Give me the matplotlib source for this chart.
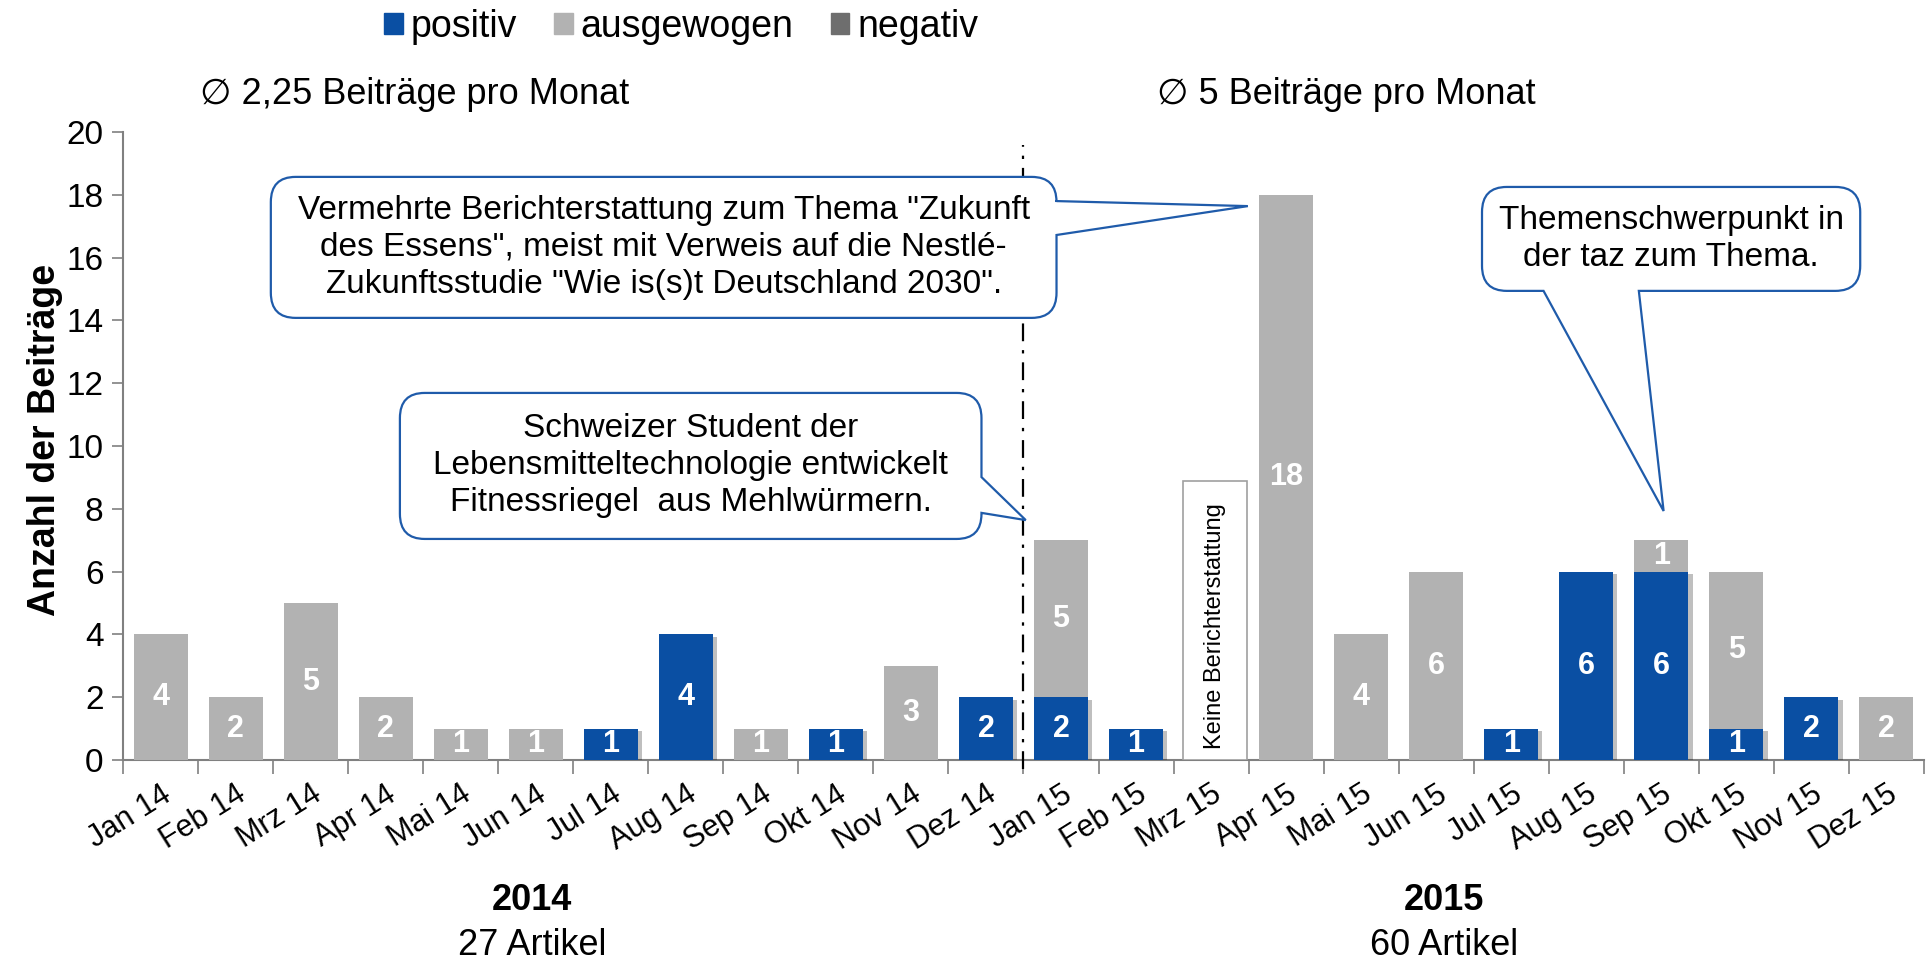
import numpy as np
import matplotlib
matplotlib.use("Agg")
import matplotlib.pyplot as plt
import matplotlib.patheffects as pe
from matplotlib.patches import Patch, PathPatch
from matplotlib.path import Path

plt.rcParams['font.family'] = ['Liberation Sans', 'DejaVu Sans']

# Daten
monate = ['Jan 14', 'Feb 14', 'Mrz 14', 'Apr 14', 'Mai 14', 'Jun 14', 'Jul 14', 'Aug 14',
          'Sep 14', 'Okt 14', 'Nov 14', 'Dez 14', 'Jan 15', 'Feb 15', 'Mrz 15', 'Apr 15',
          'Mai 15', 'Jun 15', 'Jul 15', 'Aug 15', 'Sep 15', 'Okt 15', 'Nov 15', 'Dez 15']
positiv = [0, 0, 0, 0, 0, 0, 1, 4, 0, 1, 0, 2, 2, 1, 0, 0, 0, 0, 1, 6, 6, 1, 2, 0]
ausgewogen = [4, 2, 5, 2, 1, 1, 0, 0, 1, 0, 3, 0, 5, 0, 0, 18, 4, 6, 0, 0, 1, 5, 0, 2]
negativ = [0] * 24
keine_idx = 14          # Mrz 15: keine Berichterstattung
keine_hoehe = 8.9

c_pos = '#0A4FA3'
c_aus = '#B2B2B2'
c_neg = '#6E6E6E'
c_call = '#1F5BAA'

fig = plt.figure(figsize=(19.31, 9.6), dpi=100)
ax = fig.add_axes([123 / 1931, 200 / 960, 1801 / 1931, 628 / 960])

x = np.arange(len(monate))
pos = np.array(positiv)
aus = np.array(ausgewogen)
neg = np.array(negativ)
w = 0.72

shadow = [pe.SimplePatchShadow(offset=(3, -2), shadow_rgbFace='k', alpha=0.25), pe.Normal()]
b1 = ax.bar(x, pos, w, color=c_pos, zorder=3)
for b in b1:
    b.set_path_effects(shadow)
b2 = ax.bar(x, aus, w, bottom=pos, color=c_aus, zorder=3)
b3 = ax.bar(x, neg, w, bottom=pos + aus, color=c_neg, zorder=3)

# Mrz 15 Kasten
ax.bar(keine_idx + 0.05, keine_hoehe, 0.86, color='white', edgecolor='#A0A0A0', lw=1.2, zorder=3)
ax.text(keine_idx + 0.05, 0.35, 'Keine Berichterstattung', rotation=90, ha='center', va='bottom',
        fontsize=17, zorder=4)

# Werte-Labels
for i in x:
    if pos[i] > 0:
        ax.text(i, pos[i] / 2, str(pos[i]), ha='center', va='center', color='white',
                fontsize=22, fontweight='bold', zorder=5)
    if aus[i] > 0:
        ax.text(i, pos[i] + aus[i] / 2, str(aus[i]), ha='center', va='center', color='white',
                fontsize=22, fontweight='bold', zorder=5)

# Achsen
ax.set_xlim(-0.5, 23.5)
ax.set_ylim(0, 20)
ax.set_yticks(np.arange(0, 21, 2))
ax.tick_params(axis='y', labelsize=24, length=8, color='#808080', width=1.2, pad=6)
ax.set_xticks(x)
ax.set_xticklabels(monate, rotation=32, ha='right', rotation_mode='anchor', fontsize=22)
ax.tick_params(axis='x', which='major', length=0, pad=14)
ax.set_xticks(np.arange(-0.5, 24, 1), minor=True)
ax.tick_params(axis='x', which='minor', length=10, color='#808080', width=1.2)
for s in ['top', 'right']:
    ax.spines[s].set_visible(False)
for s in ['left', 'bottom']:
    ax.spines[s].set_color('#808080')
    ax.spines[s].set_linewidth(1.5)
ax.set_ylabel('Anzahl der Beiträge', fontsize=27, fontweight='bold')
ax.yaxis.label.set_va('center')
ax.yaxis.set_label_coords(-0.0435, 0.51)

# Trennlinie
ax.plot([11.5, 11.5], [-0.3, 19.6], color='black', lw=1.6, ls=(0, (8, 4, 1.5, 4)),
        clip_on=False, zorder=6)

# Legende
handles = [Patch(color=c_pos), Patch(color=c_aus), Patch(color=c_neg)]
fig.legend(handles, ['positiv', 'ausgewogen', 'negativ'], loc='center',
           bbox_to_anchor=(681 / 1931, 1 - 27 / 960), ncol=3, frameon=False, fontsize=27,
           handlelength=0.5, handleheight=0.5, handletextpad=0.2, columnspacing=1.0,
           borderpad=0)

# Überschriften / Jahre
trans = ax.get_xaxis_transform()
ax.text(3.38, 1.059, '\u2205 2,25 Beiträge pro Monat', transform=trans, ha='center', va='center',
        fontsize=26)
ax.text(15.8, 1.059, '\u2205 5 Beiträge pro Monat', transform=trans, ha='center', va='center',
        fontsize=26)
ax.text(4.95, -0.2245, '2014', transform=trans, ha='center', va='center', fontsize=26,
        fontweight='bold')
ax.text(4.95, -0.296, '27 Artikel', transform=trans, ha='center', va='center', fontsize=26)
ax.text(17.1, -0.2245, '2015', transform=trans, ha='center', va='center', fontsize=26,
        fontweight='bold')
ax.text(17.1, -0.296, '60 Artikel', transform=trans, ha='center', va='center', fontsize=26)


def callout(x0, x1, y0, y1, side, b1, b2, tip, rx=0.33, ry=0.8):
    verts = [(x0 + rx, y1), (x1 - rx, y1), (x1, y1), (x1, y1 - ry)]
    codes = [Path.MOVETO, Path.LINETO, Path.CURVE3, Path.CURVE3]
    if side == 'right':
        verts += [(x1, b1), tip, (x1, b2)]
        codes += [Path.LINETO] * 3
    verts += [(x1, y0 + ry), (x1, y0), (x1 - rx, y0)]
    codes += [Path.LINETO, Path.CURVE3, Path.CURVE3]
    if side == 'bottom':
        verts += [(b1, y0), tip, (b2, y0)]
        codes += [Path.LINETO] * 3
    verts += [(x0 + rx, y0), (x0, y0), (x0, y0 + ry), (x0, y1 - ry), (x0, y1), (x0 + rx, y1),
              (x0 + rx, y1)]
    codes += [Path.LINETO, Path.CURVE3, Path.CURVE3, Path.LINETO, Path.CURVE3, Path.CURVE3,
              Path.CLOSEPOLY]
    p = PathPatch(Path(verts, codes), facecolor='white', edgecolor=c_call, lw=1.6, zorder=7,
                  clip_on=False)
    ax.add_patch(p)


callout(1.47, 11.94, 14.08, 18.57, 'right', 17.8, 16.72, (14.49, 17.64))
ax.text((1.47 + 11.94) / 2, (14.08 + 18.57) / 2,
        'Vermehrte Berichterstattung zum Thema "Zukunft\n'
        'des Essens", meist mit Verweis auf die Nestlé-\n'
        'Zukunftsstudie "Wie is(s)t Deutschland 2030".',
        ha='center', va='center', fontsize=24, linespacing=1.25, zorder=8)

callout(3.19, 10.94, 7.04, 11.69, 'right', 9.01, 7.87, (11.53, 7.64))
ax.text((3.19 + 10.94) / 2, (7.04 + 11.69) / 2,
        'Schweizer Student der\nLebensmitteltechnologie entwickelt\nFitnessriegel  aus Mehlwürmern.',
        ha='center', va='center', fontsize=24, linespacing=1.25, zorder=8)

callout(17.61, 22.65, 14.94, 18.25, 'bottom', 19.7, 18.43, (20.03, 7.93))
ax.text((17.61 + 22.65) / 2, (14.94 + 18.25) / 2,
        'Themenschwerpunkt in\nder taz zum Thema.',
        ha='center', va='center', fontsize=24, linespacing=1.25, zorder=8)

fig.savefig('out.png', dpi=100)
